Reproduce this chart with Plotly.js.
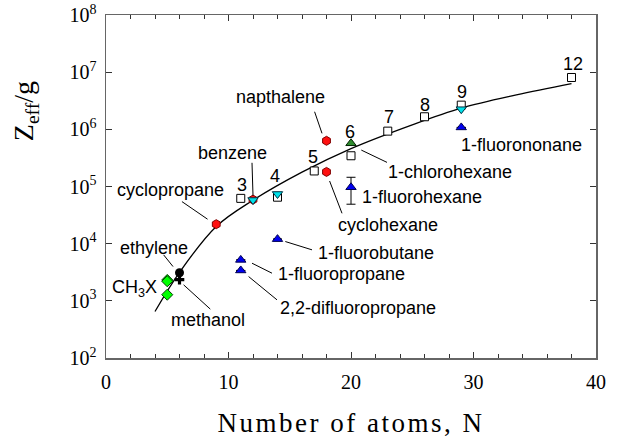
<!DOCTYPE html>
<html>
<head>
<meta charset="utf-8">
<script src="https://cdn.plot.ly/plotly-3.0.1.min.js"></script>
<style>
body { margin: 0; background: #fff; }
#chart { width: 622px; height: 441px; }
.xtitle { letter-spacing: 2.5px; }
</style>
</head>
<body>
<div id="chart"></div>
<script>
// ---- data ----
// fitted curve
const curveN = [4, 6, 9, 12, 16, 20, 25, 29, 33.5, 38];
const curveZ = [650, 3150, 2.0e4, 5.75e4, 1.78e5, 4.6e5, 1.2e6, 2.35e6, 4.0e6, 6.3e6];

// alkanes (open squares) with carbon numbers
const alkaneN = [11, 14, 17, 20, 23, 26, 29, 38];
const alkaneZ = [6.2e4, 6.5e4, 1.87e5, 3.45e5, 9.3e5, 1.66e6, 2.65e6, 8.07e6];
const alkaneLabels = ["3", "4", "5", "6", "7", "8", "9", "12"];

// cyclic / aromatic (red hexagons)
const ringN = [9, 12, 18, 18];
const ringZ = [2.19e4, 5.9e4, 6.3e5, 1.8e5];
const ringNames = ["cyclopropane", "benzene", "napthalene", "cyclohexane"];

// deuterated (cyan down-triangles)
const deutN = [12, 14, 29];
const deutZ = [5.8e4, 7.4e4, 2.25e6];

// fluorinated (blue up-triangles)
const fluoroN = [11, 11, 14, 20, 29];
const fluoroZ = [5.2e3, 3.4e3, 1.2e4, 9.7e4, 1.08e6];
const fluoroErrPlus = [0, 0, 0, 4.8e4, 0];
const fluoroErrMinus = [0, 0, 0, 4.8e4, 0];
const fluoroNames = ["1-fluoropropane", "2,2-difluoropropane", "1-fluorobutane", "1-fluorohexane", "1-fluorononane"];

// chlorinated (green triangle)
const chloroN = [20];
const chloroZ = [5.7e5];

// CH3X (green diamonds)
const methylN = [5, 5, 5];
const methylZ = [2.32e3, 2.2e3, 1.28e3];

// ethylene, methanol
const ethyleneN = [6];
const ethyleneZ = [3.1e3];
const methanolN = [6];
const methanolZ = [2.35e3];

// y tick labels
const yTickVals = [1e2, 1e3, 1e4, 1e5, 1e6, 1e7, 1e8];
const yTickText = ["10<sup>2</sup>", "10<sup>3</sup>", "10<sup>4</sup>", "10<sup>5</sup>", "10<sup>6</sup>", "10<sup>7</sup>", "10<sup>8</sup>"];

// ---- traces ----
const traces = [
  { x: curveN, y: curveZ, mode: "lines", line: { color: "#000", width: 1.3, shape: "spline", smoothing: 1 }, hoverinfo: "skip" },
  { x: alkaneN, y: alkaneZ, mode: "markers", marker: { symbol: "square", size: 8, color: "#fff", line: { color: "#000", width: 1 } } },
  { x: ringN, y: ringZ, mode: "markers", marker: { symbol: "hexagon", size: 9, color: "#ff1010", line: { color: "#800000", width: 1 } } },
  { x: deutN, y: deutZ, mode: "markers", marker: { symbol: "triangle-down", size: 9, color: "#00e0e8", line: { color: "#003040", width: 1 } } },
  { x: fluoroN, y: fluoroZ, mode: "markers", marker: { symbol: "triangle-up", size: 9, color: "#0000f0", line: { color: "#000050", width: 1 } },
    error_y: { type: "data", symmetric: false, array: fluoroErrPlus, arrayminus: fluoroErrMinus, color: "#000", thickness: 1, width: 4.5 } },
  { x: chloroN, y: chloroZ, mode: "markers", marker: { symbol: "triangle-up", size: 9, color: "#2e8b2e", line: { color: "#002000", width: 1 } } },
  { x: methylN, y: methylZ, mode: "markers", marker: { symbol: "diamond", size: 8.5, color: "#00ff00", line: { color: "#004000", width: 1 } } },
  { x: methanolN, y: methanolZ, mode: "markers", marker: { symbol: "cross", size: 8, color: "#000", line: { color: "#000", width: 0 } } },
  { x: ethyleneN, y: ethyleneZ, mode: "markers", marker: { symbol: "circle", size: 9, color: "#000", line: { color: "#000", width: 0 } } }
];

// plot geometry (for converting pixel offsets of labels/callouts)
const W = 622, H = 441, M = { l: 106, r: 26, t: 15, b: 83 };
const xRange = [0, 40], yRange = [2, 8];
const nPerPx = (xRange[1] - xRange[0]) / (W - M.l - M.r);
const logPerPx = (yRange[1] - yRange[0]) / (H - M.t - M.b);

// ---- label layout (pixel offsets from their point; y up) ----
const lblFont = { family: "Liberation Sans, Arial, sans-serif", size: 18, color: "#000" };
const annotations = [];
function addLabel(px, pz, text, dx, dy) {
  annotations.push({ x: px, y: Math.log10(pz), xref: "x", yref: "y", text: text, showarrow: false,
    xshift: dx, yshift: dy, font: lblFont, xanchor: "center", yanchor: "middle" });
}
const alkaneOff = [[1.2, 13.4], [-2.2, 21.2], [-1.6, 14.2], [-0.7, 24], [0.8, 14.4], [0.8, 11.6], [0.8, 13.3], [1.8, 13.3]];
alkaneLabels.forEach((t, i) => addLabel(alkaneN[i], alkaneZ[i], t, alkaneOff[i][0], alkaneOff[i][1]));
const ringOff = [[-45.5, 34.3], [-21, 46.8], [-46, 43.8], [61.8, -53.1]];
ringNames.forEach((t, i) => addLabel(ringN[i], ringZ[i], t, ringOff[i][0], ringOff[i][1]));
const fluoroOff = [[100.5, -14], [117.6, -37.7], [98.6, -13.4], [71, -9.4], [60.7, -17.7]];
fluoroNames.forEach((t, i) => addLabel(fluoroN[i], fluoroZ[i], t, fluoroOff[i][0], fluoroOff[i][1]));
addLabel(chloroN[0], chloroZ[0], "1-chlorohexane", 99.3, -28.5);
addLabel(methylN[0], methylZ[0], "CH<sub>3</sub>X", -33, -9);
addLabel(ethyleneN[0], ethyleneZ[0], "ethylene", -25.9, 25.2);
addLabel(methanolN[0], methanolZ[0], "methanol", 28, -40.2);

// y title
annotations.push({ xref: "paper", yref: "paper", x: -0.165, y: 0.72, text: "Z<sub>eff</sub>/g", showarrow: false,
  textangle: -90, font: { family: "Liberation Serif, Times New Roman, serif", size: 28, color: "#000" },
  xanchor: "center", yanchor: "middle" });

// callout lines (pixel offsets from their point; y up), converted to data coordinates
const shapes = [];
function addLine(px, pz, a, b) {
  const lz = Math.log10(pz);
  shapes.push({ type: "line", xref: "x", yref: "y",
    x0: px + a[0] * nPerPx, y0: Math.pow(10, lz + a[1] * logPerPx),
    x1: px + b[0] * nPerPx, y1: Math.pow(10, lz + b[1] * logPerPx),
    line: { color: "#000", width: 1 } });
}
addLine(ringN[2], ringZ[2], [-11.9, 29.05], [-4.5, 7.45]);
addLine(ringN[1], ringZ[1], [-1, 36.8], [0, 4.1]);
addLine(ringN[0], ringZ[0], [-34.3, 22.6], [-8.7, 5]);
addLine(ringN[3], ringZ[3], [3.1, -9.1], [15.5, -41.4]);
addLine(ethyleneN[0], ethyleneZ[0], [-15.9, 17.9], [-6.5, 6.2]);
addLine(methanolN[0], methanolZ[0], [4.1, -5.2], [30.8, -29.5]);
addLine(chloroN[0], chloroZ[0], [10.3, -6.8], [36, -19.1]);
addLine(fluoroN[2], fluoroZ[2], [7.8, -2.4], [34.5, -10.7]);
addLine(fluoroN[0], fluoroZ[0], [11.25, -3.3], [31.25, -13.3]);
addLine(fluoroN[1], fluoroZ[1], [7.85, -6.1], [36.25, -29.4]);

const tickFont = { family: "Liberation Serif, Times New Roman, serif", size: 20, color: "#000" };
const layout = {
  width: W, height: H,
  margin: { l: M.l, r: M.r, t: M.t, b: M.b, pad: 0 },
  paper_bgcolor: "#fff", plot_bgcolor: "#fff",
  showlegend: false,
  xaxis: {
    range: xRange, dtick: 10, tick0: 0, ticks: "inside", ticklen: 6, tickcolor: "#333", tickwidth: 1,
    showline: true, linecolor: "#666", linewidth: 1.5, mirror: "ticks", showgrid: false, zeroline: false,
    tickfont: tickFont, ticklabelstandoff: 5,
    minor: { dtick: 2, ticks: "inside", ticklen: 4, tickcolor: "#333", showgrid: false },
    title: { text: "Number of atoms, N", font: { family: "Liberation Serif, Times New Roman, serif", size: 27, color: "#000" }, standoff: 21 }
  },
  yaxis: {
    type: "log", range: yRange, tickvals: yTickVals, ticktext: yTickText,
    ticks: "inside", ticklen: 6, tickcolor: "#333", tickwidth: 1,
    showline: true, linecolor: "#666", linewidth: 1.5, mirror: "ticks", showgrid: false, zeroline: false,
    tickfont: tickFont, ticklabelstandoff: 4
  },
  annotations: annotations,
  shapes: shapes
};

Plotly.newPlot("chart", traces, layout, { displayModeBar: false, staticPlot: true });
</script>
</body>
</html>
